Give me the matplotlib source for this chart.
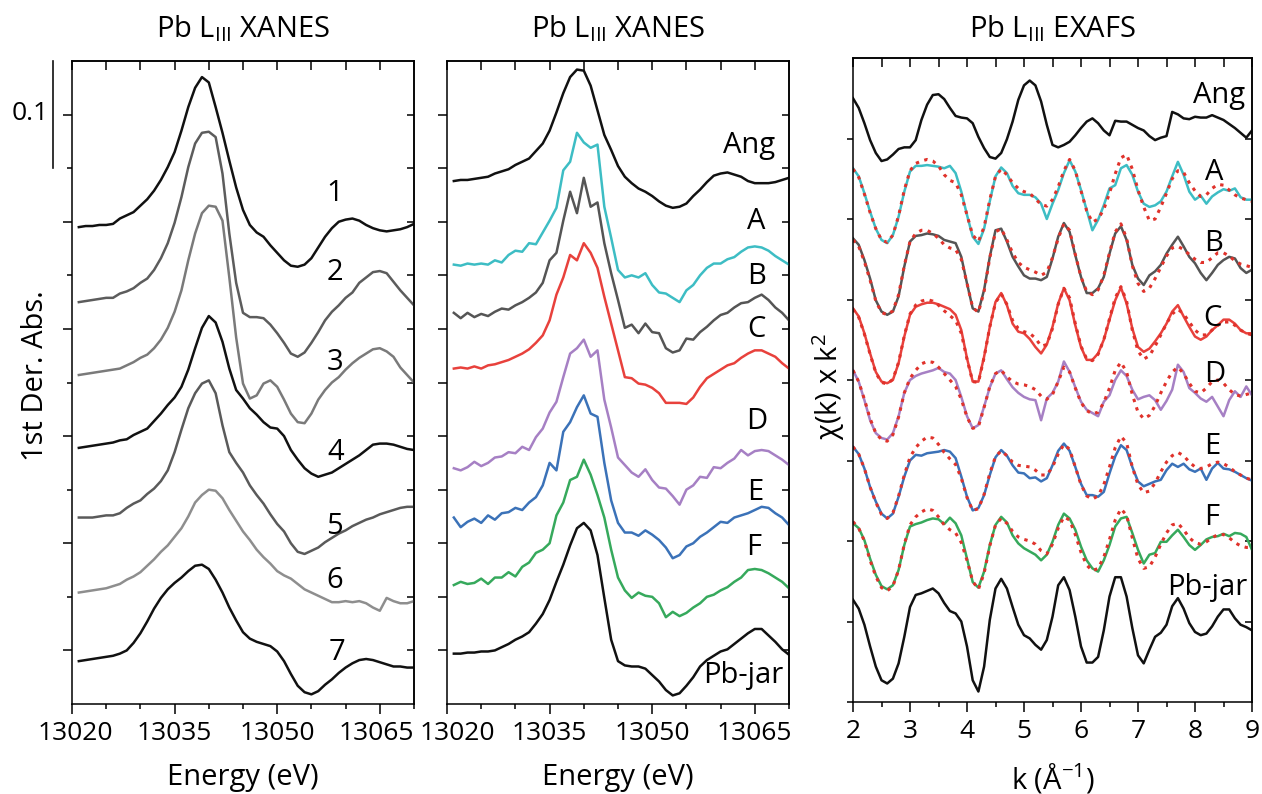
import matplotlib.pyplot as plt
import matplotlib.transforms as mtransforms
from matplotlib.ticker import NullFormatter

plt.rcParams['font.family'] = ['Open Sans', 'DejaVu Sans']
plt.rcParams['mathtext.fontset'] = 'custom'
plt.rcParams['mathtext.rm'] = 'Open Sans'
plt.rcParams['mathtext.it'] = 'Open Sans:italic'
plt.rcParams['mathtext.default'] = 'regular'

# ---- XANES energy grid (eV) ----
energy = [13021, 13022, 13023, 13024, 13025, 13026, 13027, 13028, 13029, 13030,
          13031, 13032, 13033, 13034, 13035, 13036, 13037, 13038, 13039, 13040,
          13041, 13042, 13043, 13044, 13045, 13046, 13047, 13048, 13049, 13050,
          13051, 13052, 13053, 13054, 13055, 13056, 13057, 13058, 13059, 13060,
          13061, 13062, 13063, 13064, 13065, 13066, 13067, 13068, 13069, 13070]

# left panel: reference compounds 1-7 (1st derivative, stacked)
ref1 = [0.445, 0.446, 0.446, 0.447, 0.447, 0.448, 0.453, 0.456, 0.459, 0.465,
        0.471, 0.479, 0.489, 0.501, 0.515, 0.535, 0.557, 0.575, 0.585, 0.580,
        0.557, 0.533, 0.507, 0.482, 0.461, 0.447, 0.440, 0.436, 0.428, 0.421,
        0.414, 0.409, 0.408, 0.410, 0.416, 0.426, 0.436, 0.444, 0.450, 0.452,
        0.453, 0.451, 0.447, 0.444, 0.442, 0.441, 0.442, 0.443, 0.445, 0.448]
ref2 = [0.375, 0.376, 0.377, 0.378, 0.379, 0.379, 0.383, 0.385, 0.388, 0.393,
        0.397, 0.405, 0.416, 0.430, 0.449, 0.473, 0.501, 0.523, 0.533, 0.534,
        0.529, 0.495, 0.439, 0.393, 0.365, 0.361, 0.361, 0.360, 0.354, 0.346,
        0.337, 0.327, 0.324, 0.328, 0.337, 0.347, 0.358, 0.366, 0.372, 0.379,
        0.384, 0.393, 0.398, 0.403, 0.404, 0.402, 0.394, 0.386, 0.379, 0.372]
ref3 = [0.307, 0.308, 0.309, 0.310, 0.311, 0.312, 0.313, 0.316, 0.319, 0.323,
        0.326, 0.332, 0.340, 0.351, 0.366, 0.386, 0.414, 0.439, 0.458, 0.465,
        0.464, 0.451, 0.398, 0.342, 0.299, 0.285, 0.288, 0.299, 0.302, 0.296,
        0.284, 0.271, 0.263, 0.262, 0.271, 0.284, 0.293, 0.300, 0.305, 0.312,
        0.318, 0.323, 0.327, 0.331, 0.332, 0.329, 0.324, 0.314, 0.307, 0.300]
ref4 = [0.239, 0.240, 0.241, 0.242, 0.243, 0.244, 0.246, 0.247, 0.251, 0.254,
        0.257, 0.264, 0.271, 0.279, 0.286, 0.296, 0.312, 0.332, 0.351, 0.362,
        0.356, 0.338, 0.313, 0.293, 0.285, 0.276, 0.270, 0.263, 0.258, 0.257,
        0.250, 0.237, 0.228, 0.220, 0.215, 0.212, 0.214, 0.216, 0.220, 0.224,
        0.228, 0.232, 0.237, 0.242, 0.243, 0.243, 0.242, 0.240, 0.238, 0.237]
ref5 = [0.174, 0.174, 0.174, 0.175, 0.176, 0.176, 0.178, 0.183, 0.187, 0.190,
        0.196, 0.201, 0.208, 0.218, 0.235, 0.256, 0.276, 0.290, 0.299, 0.302,
        0.290, 0.260, 0.235, 0.225, 0.216, 0.204, 0.195, 0.187, 0.177, 0.168,
        0.161, 0.150, 0.142, 0.140, 0.143, 0.146, 0.151, 0.155, 0.159, 0.162,
        0.166, 0.169, 0.172, 0.174, 0.177, 0.179, 0.181, 0.183, 0.184, 0.184]
ref6 = [0.104, 0.105, 0.106, 0.107, 0.108, 0.110, 0.112, 0.116, 0.119, 0.123,
        0.129, 0.135, 0.142, 0.148, 0.156, 0.164, 0.175, 0.188, 0.195, 0.200,
        0.199, 0.192, 0.181, 0.171, 0.161, 0.153, 0.144, 0.137, 0.131, 0.124,
        0.120, 0.117, 0.112, 0.107, 0.104, 0.101, 0.098, 0.095, 0.095, 0.096,
        0.095, 0.096, 0.094, 0.090, 0.087, 0.099, 0.096, 0.094, 0.094, 0.096]
ref7 = [0.040, 0.041, 0.042, 0.043, 0.044, 0.045, 0.047, 0.050, 0.057, 0.066,
        0.077, 0.089, 0.099, 0.107, 0.113, 0.118, 0.124, 0.129, 0.130, 0.126,
        0.116, 0.104, 0.090, 0.078, 0.067, 0.061, 0.058, 0.056, 0.054, 0.049,
        0.040, 0.028, 0.017, 0.011, 0.009, 0.012, 0.018, 0.023, 0.029, 0.034,
        0.038, 0.041, 0.042, 0.041, 0.039, 0.037, 0.035, 0.035, 0.034, 0.034]

# middle panel: Ang, samples A-F, Pb-jar
ang_x = [0.488, 0.489, 0.489, 0.490, 0.491, 0.492, 0.495, 0.497, 0.499, 0.503,
         0.506, 0.509, 0.516, 0.523, 0.535, 0.552, 0.570, 0.585, 0.592, 0.591,
         0.577, 0.554, 0.531, 0.517, 0.502, 0.492, 0.486, 0.481, 0.478, 0.474,
         0.469, 0.465, 0.463, 0.464, 0.467, 0.474, 0.480, 0.487, 0.493, 0.495,
         0.496, 0.494, 0.492, 0.488, 0.486, 0.486, 0.486, 0.487, 0.489, 0.491]
a_x = [0.410, 0.409, 0.411, 0.410, 0.411, 0.410, 0.414, 0.412, 0.419, 0.423,
       0.422, 0.430, 0.429, 0.440, 0.451, 0.463, 0.498, 0.506, 0.533, 0.524,
       0.519, 0.522, 0.464, 0.435, 0.405, 0.398, 0.400, 0.398, 0.402, 0.391,
       0.384, 0.383, 0.379, 0.375, 0.386, 0.391, 0.400, 0.407, 0.411, 0.411,
       0.415, 0.417, 0.422, 0.426, 0.427, 0.426, 0.423, 0.418, 0.414, 0.410]
b_x = [0.365, 0.360, 0.365, 0.361, 0.364, 0.362, 0.366, 0.369, 0.368, 0.372,
       0.375, 0.379, 0.384, 0.393, 0.414, 0.421, 0.451, 0.478, 0.458, 0.491,
       0.464, 0.468, 0.430, 0.402, 0.377, 0.351, 0.354, 0.346, 0.355, 0.347,
       0.346, 0.332, 0.328, 0.330, 0.341, 0.340, 0.347, 0.352, 0.358, 0.363,
       0.365, 0.370, 0.374, 0.375, 0.379, 0.382, 0.377, 0.370, 0.365, 0.358]
c_x = [0.313, 0.314, 0.313, 0.315, 0.313, 0.316, 0.317, 0.319, 0.321, 0.324,
       0.327, 0.331, 0.337, 0.344, 0.358, 0.382, 0.398, 0.419, 0.414, 0.430,
       0.421, 0.407, 0.380, 0.355, 0.330, 0.305, 0.304, 0.299, 0.298, 0.295,
       0.290, 0.281, 0.281, 0.281, 0.280, 0.286, 0.296, 0.304, 0.308, 0.312,
       0.316, 0.318, 0.323, 0.327, 0.330, 0.330, 0.327, 0.324, 0.318, 0.313]
d_x = [0.220, 0.218, 0.221, 0.226, 0.222, 0.225, 0.230, 0.231, 0.235, 0.234,
       0.240, 0.237, 0.249, 0.257, 0.272, 0.282, 0.305, 0.327, 0.332, 0.340,
       0.324, 0.330, 0.284, 0.258, 0.230, 0.223, 0.216, 0.212, 0.219, 0.209,
       0.202, 0.201, 0.194, 0.186, 0.200, 0.204, 0.212, 0.211, 0.221, 0.220,
       0.225, 0.229, 0.237, 0.232, 0.236, 0.237, 0.236, 0.232, 0.228, 0.223]
e_x = [0.174, 0.165, 0.170, 0.173, 0.169, 0.176, 0.172, 0.178, 0.179, 0.183,
       0.181, 0.188, 0.193, 0.204, 0.225, 0.218, 0.254, 0.263, 0.277, 0.288,
       0.271, 0.268, 0.225, 0.190, 0.169, 0.160, 0.160, 0.157, 0.162, 0.158,
       0.153, 0.146, 0.136, 0.139, 0.147, 0.150, 0.156, 0.160, 0.165, 0.170,
       0.169, 0.174, 0.176, 0.178, 0.181, 0.184, 0.183, 0.178, 0.174, 0.167]
f_x = [0.111, 0.114, 0.112, 0.113, 0.117, 0.112, 0.118, 0.118, 0.123, 0.119,
       0.128, 0.132, 0.141, 0.144, 0.150, 0.176, 0.188, 0.209, 0.212, 0.228,
       0.214, 0.195, 0.174, 0.144, 0.118, 0.106, 0.099, 0.104, 0.101, 0.100,
       0.094, 0.081, 0.086, 0.082, 0.085, 0.090, 0.094, 0.100, 0.102, 0.106,
       0.109, 0.114, 0.118, 0.125, 0.126, 0.125, 0.122, 0.118, 0.114, 0.108]
pbjar_x = [0.047, 0.047, 0.048, 0.048, 0.049, 0.049, 0.050, 0.053, 0.056, 0.060,
           0.063, 0.067, 0.075, 0.084, 0.097, 0.114, 0.130, 0.148, 0.164, 0.169,
           0.162, 0.139, 0.099, 0.060, 0.040, 0.036, 0.035, 0.035, 0.033, 0.027,
           0.021, 0.013, 0.008, 0.010, 0.017, 0.025, 0.035, 0.041, 0.045, 0.049,
           0.051, 0.056, 0.061, 0.066, 0.070, 0.070, 0.064, 0.058, 0.051, 0.046]

# ---- EXAFS k grid (1/A) ----
k = [2.0, 2.1, 2.2, 2.3, 2.4, 2.5, 2.6, 2.7, 2.8, 2.9,
     3.0, 3.1, 3.2, 3.3, 3.4, 3.5, 3.6, 3.7, 3.8, 3.9,
     4.0, 4.1, 4.2, 4.3, 4.4, 4.5, 4.6, 4.7, 4.8, 4.9,
     5.0, 5.1, 5.2, 5.3, 5.4, 5.5, 5.6, 5.7, 5.8, 5.9,
     6.0, 6.1, 6.2, 6.3, 6.4, 6.5, 6.6, 6.7, 6.8, 6.9,
     7.0, 7.1, 7.2, 7.3, 7.4, 7.5, 7.6, 7.7, 7.8, 7.9,
     8.0, 8.1, 8.2, 8.3, 8.4, 8.5, 8.6, 8.7, 8.8, 8.9, 9.0]

ang_k = [7.50, 7.38, 7.19, 6.98, 6.82, 6.72, 6.74, 6.80, 6.87, 6.89,
         6.89, 6.98, 7.23, 7.42, 7.54, 7.55, 7.49, 7.38, 7.28, 7.26,
         7.25, 7.19, 7.02, 6.88, 6.77, 6.75, 6.82, 6.99, 7.21, 7.48,
         7.66, 7.72, 7.66, 7.46, 7.17, 6.92, 6.89, 6.92, 6.96, 7.04,
         7.13, 7.21, 7.25, 7.19, 7.10, 7.04, 7.22, 7.21, 7.21, 7.17,
         7.13, 7.10, 7.03, 6.98, 7.01, 7.03, 7.33, 7.30, 7.25, 7.24,
         7.27, 7.26, 7.26, 7.29, 7.26, 7.23, 7.18, 7.13, 7.07, 7.01, 7.10]
a_k = [6.63, 6.53, 6.32, 6.09, 5.88, 5.74, 5.70, 5.80, 6.03, 6.34,
       6.59, 6.66, 6.66, 6.67, 6.66, 6.65, 6.63, 6.66, 6.57, 6.34,
       6.05, 5.78, 5.69, 5.88, 6.22, 6.53, 6.64, 6.57, 6.41, 6.32,
       6.30, 6.30, 6.27, 6.19, 6.00, 6.19, 6.36, 6.57, 6.73, 6.59,
       6.36, 6.11, 5.86, 5.99, 6.17, 6.38, 6.42, 6.63, 6.67, 6.55,
       6.34, 6.19, 6.15, 6.17, 6.22, 6.34, 6.53, 6.71, 6.55, 6.34,
       6.24, 6.29, 6.19, 6.28, 6.33, 6.37, 6.35, 6.38, 6.27, 6.24, 6.24]
b_k = [5.76, 5.68, 5.49, 5.26, 4.99, 4.85, 4.81, 4.85, 5.04, 5.41,
       5.72, 5.79, 5.80, 5.82, 5.81, 5.79, 5.74, 5.72, 5.70, 5.53,
       5.20, 4.89, 4.85, 5.12, 5.53, 5.86, 5.88, 5.72, 5.53, 5.41,
       5.30, 5.26, 5.26, 5.24, 5.28, 5.51, 5.78, 5.95, 5.84, 5.55,
       5.28, 5.08, 5.08, 5.14, 5.28, 5.57, 5.82, 5.91, 5.74, 5.43,
       5.26, 5.18, 5.30, 5.35, 5.43, 5.57, 5.68, 5.78, 5.66, 5.53,
       5.45, 5.33, 5.24, 5.33, 5.43, 5.49, 5.53, 5.51, 5.39, 5.33, 5.37]
c_k = [4.89, 4.79, 4.58, 4.33, 4.10, 3.98, 3.96, 4.00, 4.21, 4.54,
       4.81, 4.91, 4.94, 4.96, 4.96, 4.94, 4.91, 4.88, 4.81, 4.62,
       4.27, 3.98, 3.98, 4.29, 4.66, 4.97, 5.08, 4.93, 4.70, 4.60,
       4.58, 4.51, 4.41, 4.33, 4.44, 4.66, 4.95, 5.14, 4.99, 4.68,
       4.41, 4.25, 4.25, 4.33, 4.50, 4.75, 4.99, 5.15, 4.95, 4.64,
       4.41, 4.35, 4.39, 4.48, 4.58, 4.70, 4.85, 4.93, 4.79, 4.66,
       4.54, 4.50, 4.54, 4.62, 4.68, 4.75, 4.75, 4.70, 4.62, 4.58, 4.58]
d_k = [4.12, 3.98, 3.75, 3.50, 3.34, 3.28, 3.26, 3.34, 3.55, 3.84,
       4.00, 4.05, 4.08, 4.10, 4.12, 4.15, 4.10, 4.08, 4.00, 3.79,
       3.55, 3.40, 3.44, 3.67, 3.91, 4.08, 4.12, 4.01, 3.91, 3.84,
       3.79, 3.76, 3.75, 3.50, 3.77, 3.84, 3.98, 4.23, 4.10, 3.91,
       3.73, 3.63, 3.59, 3.55, 3.73, 3.81, 4.00, 4.12, 4.05, 3.88,
       3.76, 3.79, 3.81, 3.75, 3.63, 3.74, 3.88, 4.19, 4.10, 3.90,
       3.84, 3.77, 3.73, 3.79, 3.67, 3.55, 3.75, 3.86, 3.79, 3.92, 3.81]
e_k = [3.17, 3.08, 2.90, 2.67, 2.49, 2.34, 2.28, 2.34, 2.55, 2.80,
       3.00, 3.07, 3.06, 3.09, 3.10, 3.11, 3.13, 3.11, 3.03, 2.80,
       2.55, 2.38, 2.41, 2.57, 2.82, 3.04, 3.13, 3.06, 2.94, 2.85,
       2.84, 2.78, 2.79, 2.74, 2.78, 2.94, 3.12, 3.21, 3.12, 2.92,
       2.71, 2.57, 2.57, 2.55, 2.61, 2.84, 3.05, 3.19, 3.13, 2.92,
       2.74, 2.68, 2.71, 2.74, 2.76, 2.88, 2.96, 2.92, 2.96, 2.89,
       2.86, 2.90, 2.76, 2.90, 2.97, 2.90, 2.89, 2.86, 2.82, 2.78, 2.75]
f_k = [2.22, 2.16, 2.01, 1.78, 1.58, 1.44, 1.40, 1.45, 1.64, 1.95,
       2.18, 2.21, 2.23, 2.26, 2.28, 2.27, 2.21, 2.29, 2.22, 2.07,
       1.78, 1.49, 1.42, 1.62, 1.95, 2.20, 2.30, 2.23, 2.07, 1.97,
       1.91, 1.87, 1.83, 1.76, 1.83, 1.99, 2.20, 2.34, 2.28, 2.14,
       1.93, 1.76, 1.66, 1.62, 1.76, 1.95, 2.18, 2.28, 2.30, 2.10,
       1.89, 1.72, 1.83, 1.85, 1.99, 1.99, 2.07, 2.14, 2.05, 1.95,
       1.89, 1.95, 2.02, 2.05, 2.06, 2.09, 2.06, 2.10, 2.09, 2.05, 1.89]
pbjar_k = [1.27, 1.16, 0.96, 0.69, 0.44, 0.27, 0.23, 0.29, 0.48, 0.81,
           1.18, 1.33, 1.35, 1.38, 1.41, 1.35, 1.23, 1.13, 1.10, 1.00,
           0.69, 0.27, 0.13, 0.44, 1.02, 1.41, 1.53, 1.41, 1.18, 0.96,
           0.83, 0.79, 0.71, 0.65, 0.77, 1.06, 1.45, 1.55, 1.39, 1.06,
           0.69, 0.49, 0.49, 0.56, 0.89, 1.31, 1.55, 1.55, 1.31, 0.92,
           0.58, 0.48, 0.65, 0.81, 0.86, 0.96, 1.19, 1.29, 1.16, 0.98,
           0.87, 0.83, 0.85, 0.94, 1.06, 1.15, 1.15, 1.04, 0.96, 0.93, 0.89]

# shell fits (red dotted)
a_fit = [6.62, 6.52, 6.31, 6.08, 5.88, 5.74, 5.71, 5.80, 6.04, 6.36,
         6.60, 6.69, 6.72, 6.74, 6.72, 6.66, 6.55, 6.48, 6.45, 6.30,
         6.05, 5.80, 5.72, 5.90, 6.24, 6.53, 6.62, 6.55, 6.45, 6.38,
         6.34, 6.32, 6.25, 6.18, 6.16, 6.24, 6.40, 6.60, 6.74, 6.60,
         6.35, 6.10, 5.96, 6.00, 6.12, 6.32, 6.56, 6.76, 6.80, 6.62,
         6.36, 6.15, 5.98, 6.00, 6.15, 6.32, 6.50, 6.60, 6.58, 6.45,
         6.35, 6.28, 6.30, 6.38, 6.43, 6.42, 6.36, 6.30, 6.26, 6.24, 6.22]
b_fit = [5.74, 5.66, 5.47, 5.24, 4.98, 4.84, 4.81, 4.86, 5.06, 5.42,
         5.72, 5.82, 5.86, 5.86, 5.82, 5.76, 5.68, 5.64, 5.62, 5.50,
         5.20, 4.90, 4.84, 5.10, 5.52, 5.84, 5.88, 5.74, 5.58, 5.46,
         5.40, 5.37, 5.34, 5.30, 5.34, 5.52, 5.76, 5.94, 5.86, 5.56,
         5.28, 5.10, 5.06, 5.12, 5.30, 5.58, 5.84, 5.94, 5.76, 5.42,
         5.20, 5.10, 5.14, 5.26, 5.40, 5.54, 5.64, 5.66, 5.62, 5.56,
         5.50, 5.46, 5.46, 5.52, 5.58, 5.58, 5.54, 5.48, 5.44, 5.42, 5.40]
c_fit = [4.88, 4.78, 4.57, 4.32, 4.09, 3.97, 3.95, 4.01, 4.22, 4.55,
         4.82, 4.93, 4.98, 5.00, 4.98, 4.93, 4.86, 4.80, 4.74, 4.58,
         4.26, 3.98, 3.97, 4.28, 4.66, 4.96, 5.07, 4.94, 4.74, 4.64,
         4.60, 4.58, 4.52, 4.42, 4.44, 4.64, 4.94, 5.14, 5.02, 4.70,
         4.42, 4.26, 4.24, 4.32, 4.50, 4.76, 5.02, 5.16, 4.98, 4.62,
         4.36, 4.26, 4.30, 4.42, 4.56, 4.70, 4.82, 4.88, 4.82, 4.72,
         4.62, 4.56, 4.56, 4.62, 4.68, 4.72, 4.72, 4.68, 4.62, 4.58, 4.56]
d_fit = [4.12, 3.98, 3.76, 3.52, 3.34, 3.26, 3.24, 3.32, 3.54, 3.84,
         4.02, 4.12, 4.20, 4.23, 4.22, 4.16, 4.08, 4.00, 3.92, 3.76,
         3.54, 3.40, 3.42, 3.66, 3.92, 4.08, 4.12, 4.04, 3.98, 3.95,
         3.94, 3.92, 3.88, 3.80, 3.76, 3.82, 3.98, 4.16, 4.10, 3.90,
         3.72, 3.62, 3.58, 3.60, 3.72, 3.90, 4.12, 4.22, 4.10, 3.82,
         3.60, 3.52, 3.56, 3.68, 3.84, 3.98, 4.10, 4.16, 4.08, 3.96,
         3.86, 3.84, 3.90, 3.98, 4.00, 3.96, 3.88, 3.82, 3.80, 3.82, 3.84]
e_fit = [3.17, 3.08, 2.90, 2.67, 2.48, 2.33, 2.28, 2.35, 2.56, 2.82,
         3.04, 3.16, 3.24, 3.29, 3.28, 3.20, 3.10, 3.02, 2.95, 2.78,
         2.54, 2.38, 2.40, 2.58, 2.84, 3.05, 3.12, 3.06, 2.98, 2.94,
         2.93, 2.92, 2.88, 2.82, 2.82, 2.92, 3.08, 3.20, 3.14, 2.92,
         2.70, 2.56, 2.52, 2.56, 2.70, 2.92, 3.16, 3.30, 3.22, 2.92,
         2.70, 2.60, 2.62, 2.72, 2.86, 2.98, 3.06, 3.10, 3.06, 2.98,
         2.92, 2.90, 2.92, 2.96, 2.98, 2.96, 2.92, 2.86, 2.82, 2.78, 2.76]
f_fit = [2.24, 2.16, 2.00, 1.76, 1.56, 1.42, 1.38, 1.44, 1.64, 1.96,
         2.20, 2.30, 2.36, 2.40, 2.38, 2.30, 2.20, 2.14, 2.10, 1.98,
         1.76, 1.50, 1.40, 1.60, 1.94, 2.20, 2.28, 2.22, 2.12, 2.05,
         2.02, 2.00, 1.96, 1.88, 1.84, 1.96, 2.16, 2.30, 2.26, 2.08,
         1.86, 1.70, 1.63, 1.66, 1.80, 2.02, 2.26, 2.40, 2.32, 2.04,
         1.78, 1.66, 1.68, 1.80, 1.96, 2.10, 2.20, 2.22, 2.14, 2.04,
         1.98, 1.96, 1.99, 2.04, 2.08, 2.08, 2.04, 1.98, 1.94, 1.92, 1.92]

# curve labels (text, x, y)
labels1 = [('1', 13058.4, 0.476), ('2', 13058.4, 0.403), ('3', 13058.4, 0.319),
           ('4', 13058.6, 0.235), ('5', 13058.4, 0.166), ('6', 13058.4, 0.115),
           ('7', 13058.8, 0.048)]
labels2 = [('Ang', 13064.2, 0.521), ('A', 13065.2, 0.450), ('B', 13065.2, 0.399),
           ('C', 13065.2, 0.349), ('D', 13065.3, 0.264), ('E', 13065.0, 0.197),
           ('F', 13064.9, 0.146), ('Pb-jar', 13063.3, 0.027)]
labels3 = [('Ang', 8.42, 7.53), ('A', 8.33, 6.58), ('B', 8.32, 5.70),
           ('C', 8.30, 4.77), ('D', 8.35, 4.07), ('E', 8.30, 3.17),
           ('F', 8.30, 2.29), ('Pb-jar', 8.21, 1.42)]

BLACK = '#111111'
TEAL = '#3dbdc4'
GRAY = '#555555'
RED = '#e8413c'
PURPLE = '#a680c4'
BLUE = '#3b72b8'
GREEN = '#36a95c'
FITRED = '#e0322b'
LW = 1.8

fig = plt.figure(figsize=(12.62, 7.94), dpi=100)
ax1 = fig.add_axes([72 / 1262, 90 / 794, 342 / 1262, 643 / 794])
ax2 = fig.add_axes([447 / 1262, 90 / 794, 342 / 1262, 643 / 794])
ax3 = fig.add_axes([853 / 1262, 92 / 794, 399 / 1262, 644 / 794])


def frame(ax, xmaj, xmin, xtop, ymaj, ymin, yright, ylen_maj, ylen_min):
    for s in ax.spines.values():
        s.set_linewidth(1.1)
    ax.set_xticks(xmaj, labels=[str(v) for v in xmaj])
    ax.set_xticks(xmin, minor=True)
    ax.set_yticks(ymaj)
    ax.set_yticks(ymin, minor=True)
    ax.tick_params(axis='x', which='major', direction='out', length=7, width=1.1,
                   pad=5, labelsize=19)
    ax.tick_params(axis='x', which='minor', direction='out', length=3.8, width=1.1)
    ax.tick_params(axis='y', which='major', direction='out', length=ylen_maj,
                   width=1.1, labelleft=False)
    ax.tick_params(axis='y', which='minor', direction='out', length=ylen_min, width=1.1)
    top = ax.secondary_xaxis('top')
    top.set_ticks(xtop)
    top.xaxis.set_major_formatter(NullFormatter())
    top.tick_params(direction='in', length=6.5, width=1.1)
    top.spines['top'].set_linewidth(1.1)
    right = ax.secondary_yaxis('right')
    right.set_ticks(yright)
    right.yaxis.set_major_formatter(NullFormatter())
    right.tick_params(direction='in', length=5, width=1.1)
    right.spines['right'].set_linewidth(1.1)


def nudge_label(ax, idx, px):
    lab = ax.get_xticklabels()[idx]
    lab.set_transform(lab.get_transform() +
                      mtransforms.ScaledTranslation(px / 100, 0, fig.dpi_scale_trans))


e_major = [13020, 13035, 13050, 13065]
e_minor = [13025, 13030, 13040, 13045, 13055, 13060, 13070]
e_top = [13020, 13025, 13030, 13035, 13040, 13045, 13050, 13055, 13060, 13065, 13070]
y_all = [0.05, 0.10, 0.15, 0.20, 0.25, 0.30, 0.35, 0.40, 0.45, 0.50, 0.55]

# ---- left panel ----
for vals, col in [(ref1, BLACK), (ref2, '#5c5c5c'), (ref3, '#7a7a7a'), (ref4, BLACK),
                  (ref5, '#5a5a5a'), (ref6, '#8e8e8e'), (ref7, BLACK)]:
    ax1.plot(energy, vals, color=col, lw=LW)
ax1.set_xlim(13020, 13070)
ax1.set_ylim(0, 0.6)
frame(ax1, e_major, e_minor, e_top,
      [0.05, 0.15, 0.25, 0.35, 0.45, 0.55], [0.10, 0.20, 0.30, 0.40, 0.50],
      y_all, 6.5, 3.5)
nudge_label(ax1, 0, 3)
nudge_label(ax1, 3, -3)
for t, x, y in labels1:
    ax1.text(x, y, t, fontsize=21, ha='center', va='center')
ax1.set_xlabel('Energy (eV)', fontsize=21)
ax1.xaxis.set_label_coords(0.5, -0.092)
ax1.set_ylabel('1st Der. Abs.', fontsize=21)
ax1.yaxis.set_label_coords(-0.063, 0.51)
ax1.text(0.5, 1.037, r'Pb L$_{\mathrm{III}}$ XANES', transform=ax1.transAxes,
         ha='center', va='baseline', fontsize=21)
# 0.1 scale bar
bt = mtransforms.blended_transform_factory(ax1.transAxes, ax1.transData)
ax1.plot([-0.056, -0.056], [0.50, 0.60], color=BLACK, lw=1.2, transform=bt, clip_on=False)
ax1.text(-0.123, 0.551, '0.1', transform=bt, ha='center', va='center', fontsize=19)

# ---- middle panel ----
for vals, col in [(ang_x, BLACK), (a_x, TEAL), (b_x, GRAY), (c_x, RED), (d_x, PURPLE),
                  (e_x, BLUE), (f_x, GREEN), (pbjar_x, BLACK)]:
    ax2.plot(energy, vals, color=col, lw=LW)
ax2.set_xlim(13020, 13070)
ax2.set_ylim(0, 0.6)
frame(ax2, e_major, e_minor, e_top, y_all, [], y_all, 6.5, 3.5)
nudge_label(ax2, 0, 10)
for t, x, y in labels2:
    ax2.text(x, y, t, fontsize=21, ha='center', va='center')
ax2.set_xlabel('Energy (eV)', fontsize=21)
ax2.xaxis.set_label_coords(0.5, -0.092)
ax2.text(0.5, 1.037, r'Pb L$_{\mathrm{III}}$ XANES', transform=ax2.transAxes,
         ha='center', va='baseline', fontsize=21)

# ---- right panel ----
for vals, col in [(ang_k, BLACK), (a_k, TEAL), (b_k, GRAY), (c_k, RED), (d_k, PURPLE),
                  (e_k, BLUE), (f_k, GREEN), (pbjar_k, BLACK)]:
    ax3.plot(k, vals, color=col, lw=LW)
for fit in [a_fit, b_fit, c_fit, d_fit, e_fit, f_fit]:
    ax3.plot(k, fit, color=FITRED, lw=2.2, linestyle=(0, (1.1, 1.8)),
             dash_capstyle='butt')
ax3.set_xlim(2, 9)
ax3.set_ylim(0, 8)
k_major = [2, 3, 4, 5, 6, 7, 8, 9]
k_minor = [2.5, 3.5, 4.5, 5.5, 6.5, 7.5, 8.5]
k_top = [2, 2.5, 3, 3.5, 4, 4.5, 5, 5.5, 6, 6.5, 7, 7.5, 8, 8.5, 9]
frame(ax3, k_major, k_minor, k_top, [0, 1, 2, 3, 4, 5, 6, 7], [],
      [1, 2, 3, 4, 5, 6, 7], 4.5, 3)
for t, x, y in labels3:
    ax3.text(x, y, t, fontsize=21, ha='center', va='center')
ax3.set_xlabel(r'k (Å$^{-1}$)', fontsize=21)
ax3.xaxis.set_label_coords(0.5, -0.092)
ax3.set_ylabel(r'χ(k) x k$^{2}$', fontsize=21)
ax3.yaxis.set_label_coords(-0.014, 0.49)
ax3.text(0.5, 1.033, r'Pb L$_{\mathrm{III}}$ EXAFS', transform=ax3.transAxes,
         ha='center', va='baseline', fontsize=21)

fig.savefig('out.png', dpi=100)
